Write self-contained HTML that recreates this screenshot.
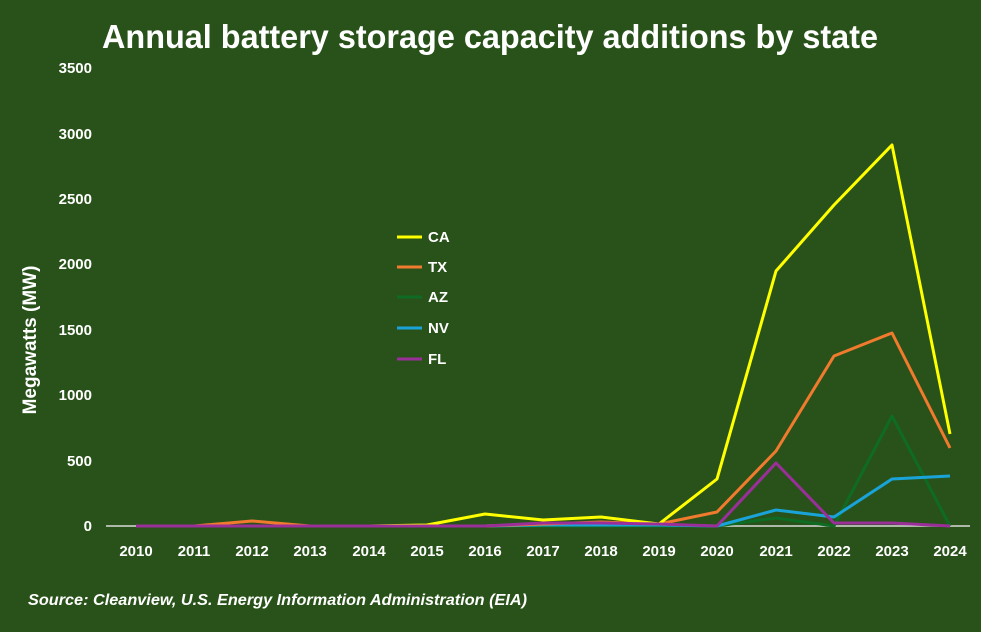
<!DOCTYPE html>
<html><head><style>
body{margin:0;background:#285219;}
svg{display:block;font-family:"Liberation Sans",sans-serif;}
</style></head><body>
<svg width="981" height="632" viewBox="0 0 981 632">
<rect width="981" height="632" fill="#285219"/>
<text x="490" y="48" text-anchor="middle" fill="#fff" font-size="33" font-weight="bold" textLength="776" lengthAdjust="spacingAndGlyphs">Annual battery storage capacity additions by state</text>
<g fill="#fff" font-size="15" font-weight="bold" text-anchor="end">
<text x="92" y="531">0</text><text x="92" y="466">500</text><text x="92" y="400">1000</text>
<text x="92" y="335">1500</text><text x="92" y="269">2000</text><text x="92" y="204">2500</text>
<text x="92" y="139">3000</text><text x="92" y="73">3500</text>
</g>
<text transform="translate(36,340) rotate(-90)" text-anchor="middle" fill="#fff" font-size="19" font-weight="bold">Megawatts (MW)</text>
<line x1="106" y1="526" x2="970" y2="526" stroke="#d9d9d9" stroke-width="1.5"/>
<g fill="#fff" font-size="15" font-weight="bold" text-anchor="middle">
<text x="136" y="556">2010</text><text x="194" y="556">2011</text><text x="252" y="556">2012</text>
<text x="310" y="556">2013</text><text x="369" y="556">2014</text><text x="427" y="556">2015</text>
<text x="485" y="556">2016</text><text x="543" y="556">2017</text><text x="601" y="556">2018</text>
<text x="659" y="556">2019</text><text x="717" y="556">2020</text><text x="776" y="556">2021</text>
<text x="834" y="556">2022</text><text x="892" y="556">2023</text><text x="950" y="556">2024</text>
</g>
<g fill="none" stroke-width="3" stroke-linejoin="round">
<polyline stroke="#0f6b23" points="136,526 194,526 252,526 310,526 369,526 427,526 485,526 543,526 601,526 659,526 717,526 776,518 834,526 892,416 950,526"/>
<polyline stroke="#1aa3d8" points="136,526 194,526 252,526 310,526 369,526 427,526 485,526 543,525 601,525 659,525 717,526 776,510 834,517 892,479 950,476"/>
<polyline stroke="#f07a2e" points="136,526 194,526 252,521 310,526 369,526 427,526 485,526 543,524 601,522 659,524 717,512 776,451 834,356 892,333 950,448"/>
<polyline stroke="#ffff00" points="136,526 194,526 252,526 310,526 369,526 427,525 485,514 543,520 601,517 659,524 717,479 776,271 834,205 892,145 950,434"/>
<polyline stroke="#9a2f9a" points="136,526 194,526 252,526 310,526 369,526 427,526 485,526 543,523 601,523 659,524 717,526 776,463 834,523 892,523 950,526"/>
</g>
<g stroke-width="3">
<line x1="397" y1="237" x2="422" y2="237" stroke="#ffff00"/>
<line x1="397" y1="267" x2="422" y2="267" stroke="#f07a2e"/>
<line x1="397" y1="297" x2="422" y2="297" stroke="#0f6b23"/>
<line x1="397" y1="328" x2="422" y2="328" stroke="#1aa3d8"/>
<line x1="397" y1="359" x2="422" y2="359" stroke="#9a2f9a"/>
</g>
<g fill="#fff" font-size="15" font-weight="bold">
<text x="428" y="242">CA</text><text x="428" y="272">TX</text><text x="428" y="302">AZ</text>
<text x="428" y="333">NV</text><text x="428" y="364">FL</text>
</g>
<text x="28" y="605" fill="#fff" font-size="16" font-weight="bold" font-style="italic" textLength="499" lengthAdjust="spacingAndGlyphs">Source: Cleanview, U.S. Energy Information Administration (EIA)</text>
</svg>
</body></html>
